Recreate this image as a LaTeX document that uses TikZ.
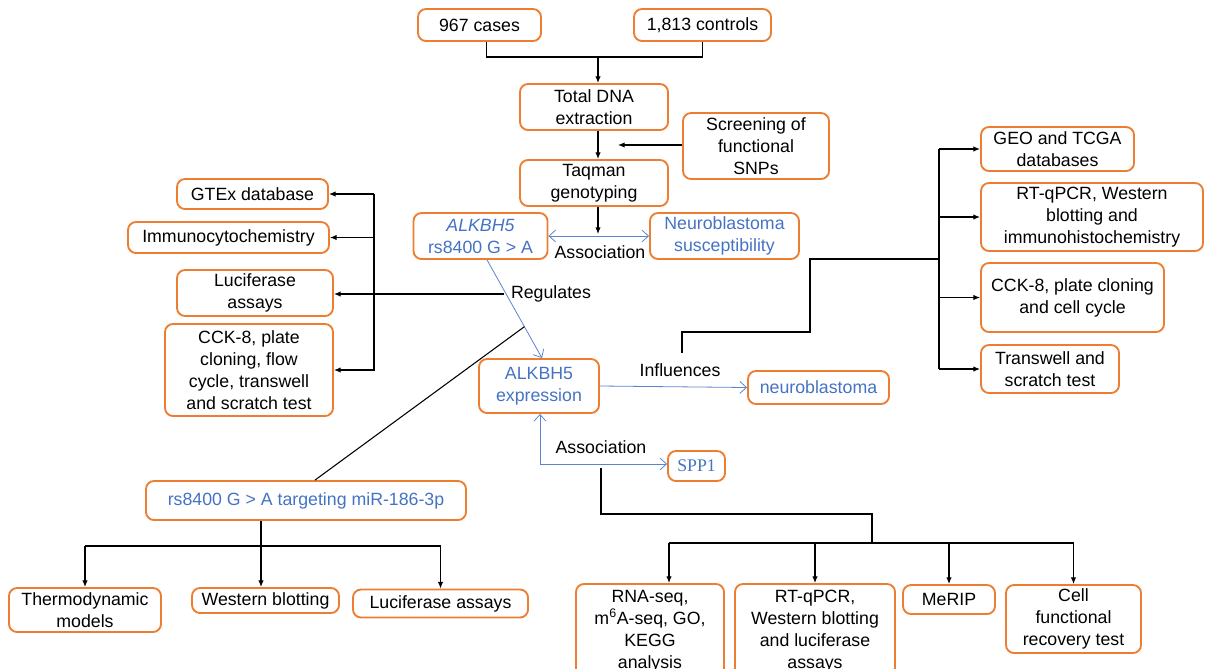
\documentclass[tikz,border=0pt]{standalone}
\usepackage{fontspec}
\setmainfont{Liberation Sans}
\newfontfamily\spserif{Liberation Serif}
\usetikzlibrary{arrows.meta}
\definecolor{boxorange}{HTML}{ED7D31}
\definecolor{txtblue}{HTML}{4472C4}
\definecolor{lineblue}{HTML}{5B84D0}
\tikzset{sz/.style 2 args={minimum width=#1*0.75pt, minimum height=#2*0.75pt}}

\begin{document}
\begin{tikzpicture}[x=0.75pt,y=-0.75pt,font=\fontsize{13.3}{16.5}\selectfont]
\useasboundingbox (0,0) rectangle (1206,668);
\clip (0,0) rectangle (1206,668);

\begin{scope}[every node/.style={draw=boxorange,line width=1.4pt,rounded corners=6pt,align=center,inner sep=1pt}]
    \node[sz={123}{32}] (A) at (479.5,25) {967 cases};
    \node[sz={137}{32}] (B) at (702.5,25) {1,813 controls};
    \node[sz={148}{46}] (C) at (594,107) {Total DNA\\extraction};
    \node[sz={146}{66}] (D) at (756,146) {Screening of\\functional\\SNPs};
    \node[sz={148}{46}] (E) at (594,183) {Taqman\\genotyping};
    \node[sz={134}{46},text=txtblue] (F) at (480.5,236) {\textit{ALKBH5}\\rs8400 G > A};
    \node[sz={149}{46},text=txtblue] (G) at (724.5,236) {Neuroblastoma\\susceptibility};

    \node[sz={151}{30}] (H) at (252.5,194) {GTEx database};
    \node[sz={201}{31}] (I) at (228.5,237.5) {Immunocytochemistry};
    \node[sz={156}{46}] (J) at (255,293) {Luciferase\\assays};
    \node[sz={168}{92}] (K) at (249,370) {CCK-8, plate\\cloning, flow\\cycle, transwell\\and scratch test};

    \node[sz={120}{54},text=txtblue] (L) at (539,386) {ALKBH5\\expression};
    \node[sz={141}{33},text=txtblue] (M) at (818.5,387.5) {neuroblastoma};

    \node[sz={153}{44}] (N) at (1057.5,149) {GEO and TCGA\\databases};
    \node[sz={222}{68}] (O) at (1092,217) {RT-qPCR, Western\\blotting and\\immunohistochemistry};
    \node[sz={183}{69}] (P) at (1072.5,297.5) {CCK-8, plate cloning\\and cell cycle};
    \node[sz={138}{48}] (Q) at (1050,369) {Transwell and\\scratch test};

    \node[sz={57}{30},text=txtblue,font=\spserif\fontsize{13.3}{16.5}\selectfont] (R) at (696.5,466) {SPP1};
    \node[sz={320}{39},text=txtblue] (S) at (306,500.5) {rs8400 G > A targeting miR-186-3p};

    \node[sz={152}{44}] (T) at (85,610) {Thermodynamic\\models};
    \node[sz={147}{25}] (U) at (265.5,600.5) {Western blotting};
    \node[sz={175}{28}] (V) at (440.5,603.5) {Luciferase assays};

    \node[sz={148}{94}] (W) at (650,631) {RNA-seq,\\m\textsuperscript{6}A-seq, GO,\\KEGG\\analysis};
    \node[sz={160}{94}] (X) at (815,631) {RT-qPCR,\\Western blotting\\and luciferase\\assays};
    \node[sz={92}{29}] (Y) at (949,599.5) {MeRIP};
    \node[sz={135}{68}] (Z) at (1073.5,619) {Cell\\functional\\recovery test};
\end{scope}

\node (t1) at (600,252) {Association};
\node (t2) at (551,294) {Regulates};
\node (t3) at (680,370) {Influences};
\node (t4) at (601,447) {Association};

\coordinate (j1) at (598,57);
\coordinate (j2) at (618,145);
\coordinate (j3) at (598,234);
\coordinate (j4) at (504,294);
\coordinate (j5) at (374,194);
\coordinate (j6) at (682,353);
\coordinate (j7) at (939,259);
\coordinate (j8) at (540,464);
\coordinate (j9) at (601,468);
\coordinate (j10) at (872,543);
\coordinate (j11) at (261,546);
\coordinate (j12) at (669,543);

\begin{scope}[>={Straight Barb[length=5pt,width=9pt]},color=lineblue,line width=0.6pt]
    \draw[<->] (F.east) -- (G.west);
    \draw[->] ([xshift=4.9pt]F.south) -- coordinate[pos=0.68] (k) ([xshift=2.25pt]L.north);
    \draw[->] (L.east) -- (M.west);
    \draw[->] (j8) -- (j8 |- L.south);
    \draw[->] (j8) -- (j8 -| R.west);
\end{scope}

\begin{scope}[>={Latex[length=5pt,width=4pt]},line width=0.8pt]
    \draw ([xshift=4.9pt]A.south) |- (j1) -| (B.south);
    \draw[->] (j1) -- (j1 |- C.north);
    \draw[->] (j1 |- C.south) -- (j1 |- E.north);
    \draw[->] (D.west |- j2) -- (j2);
    \draw[->] (j1 |- E.south) -- (j3);

    \draw[->] (j4) -- (j4 -| J.east);
    \draw[->] (j5) -- (H.east);
    \draw[->] (j5 |- I.east) -- (I.east);
    \draw[->] (j5) |- (K.east);

    \draw (k) -- ([xshift=6.75pt]S.north);
    \draw[->] (j11 |- S.south) -- (j11 |- U.north);
    \draw (T.north |- j11) -- (V.north |- j11);
    \draw[->] (T.north |- j11) -- (T.north);
    \draw[->] (V.north |- j11) -- (V.north);

    \draw (j6) -- ++(0,-21) -| (810,259) -- (j7);
    \draw (j7 |- N.west) -- (j7 |- Q.west);
    \draw[->] (j7 |- N.west) -- (N.west);
    \draw[->] (j7 |- O.west) -- (O.west);
    \draw[->] (j7 |- P.west) -- (P.west);
    \draw[->] (j7 |- Q.west) -- (Q.west);

    \draw (j9) |- (872,514) -- (j10);
    \draw (j12) -- (Z.north |- j10);
    \draw[->] (j12) -- (j12 |- W.north);
    \draw[->] (X.north |- j10) -- (X.north);
    \draw[->] (Y.north |- j10) -- (Y.north);
    \draw[->] (Z.north |- j10) -- (Z.north);
\end{scope}
\end{tikzpicture}
\end{document}
